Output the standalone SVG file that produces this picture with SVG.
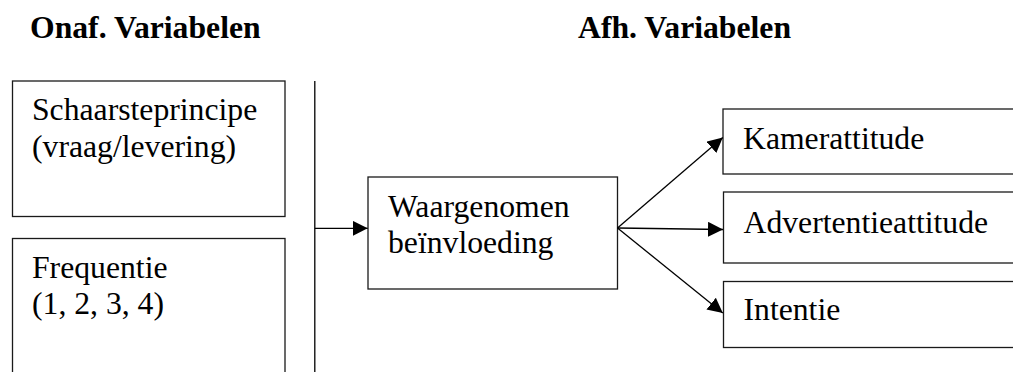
<svg xmlns="http://www.w3.org/2000/svg" width="1013" height="372" viewBox="0 0 1013 372">
  <style>
    .box { fill: #fff; stroke: #1a1a1a; stroke-width: 1.3; }
    .lbl { font-family: "Liberation Serif", "Times New Roman", serif; font-size: 31.7px; fill: #000; }
    .head { font-family: "Liberation Serif", "Times New Roman", serif; font-size: 31.7px; font-weight: bold; fill: #000; }
    .edge { fill: none; stroke: #000; stroke-width: 1.3; }
  </style>
  <defs>
    <marker id="arrow" markerUnits="userSpaceOnUse" markerWidth="16" markerHeight="16" refX="15" refY="7.5" orient="auto">
      <path d="M0,0 L15,7.5 L0,15 Z" fill="#000"/>
    </marker>
  </defs>
  <rect width="1013" height="372" fill="#fff"/>

  <!-- column headings -->
  <text class="head" x="30" y="38">Onaf. Variabelen</text>
  <text class="head" x="578" y="38">Afh. Variabelen</text>

  <!-- independent variables -->
  <g id="node-schaarste">
    <rect class="box" x="12.5" y="81" width="272.5" height="135.5"/>
    <text class="lbl" x="32" y="120">Schaarsteprincipe</text>
    <text class="lbl" x="32" y="156.5">(vraag/levering)</text>
  </g>
  <g id="node-frequentie">
    <rect class="box" x="12.5" y="238.5" width="272.5" height="150"/>
    <text class="lbl" x="32" y="278">Frequentie</text>
    <text class="lbl" x="32" y="314">(1, 2, 3, 4)</text>
  </g>

  <!-- mediator -->
  <g id="node-beinvloeding">
    <rect class="box" x="368" y="177" width="249.5" height="112"/>
    <text class="lbl" x="388" y="216.5">Waargenomen</text>
    <text class="lbl" x="388" y="253">beïnvloeding</text>
  </g>

  <!-- dependent variables -->
  <g id="node-kamerattitude">
    <rect class="box" x="723" y="109" width="300" height="65"/>
    <text class="lbl" x="743" y="148.5">Kamerattitude</text>
  </g>
  <g id="node-advertentieattitude">
    <rect class="box" x="723.5" y="192" width="300" height="71"/>
    <text class="lbl" x="743.5" y="232.5">Advertentieattitude</text>
  </g>
  <g id="node-intentie">
    <rect class="box" x="723.5" y="281.5" width="300" height="66"/>
    <text class="lbl" x="743.5" y="319.5">Intentie</text>
  </g>

  <!-- connectors -->
  <g id="connectors">
    <line class="edge" x1="314.8" y1="81" x2="314.8" y2="372"/>
    <line class="edge" x1="314.8" y1="228.3" x2="367.7" y2="228.3" marker-end="url(#arrow)"/>
    <line class="edge" x1="617.5" y1="228" x2="722.8" y2="137.5" marker-end="url(#arrow)"/>
    <line class="edge" x1="617.5" y1="228" x2="723" y2="229.5" marker-end="url(#arrow)"/>
    <line class="edge" x1="617.5" y1="228" x2="722.8" y2="313" marker-end="url(#arrow)"/>
  </g>
</svg>
